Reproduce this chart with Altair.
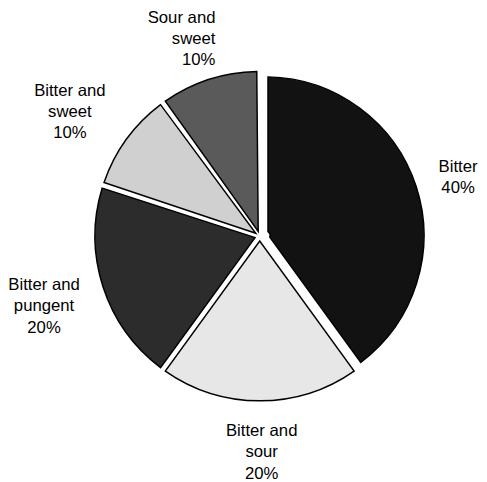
import math
import altair as alt
import pandas as pd

# ---- data ----
tastes = ["Bitter", "Bitter and sour", "Bitter and pungent", "Bitter and sweet", "Sour and sweet"]
shares = [40, 20, 20, 10, 10]
label_lines = ["Bitter", "Bitter and\nsour", "Bitter and\npungent", "Bitter and\nsweet", "Sour and\nsweet"]
colors = ["#121212", "#e7e7e7", "#2c2c2c", "#d0d0d0", "#5a5a5a"]

df = pd.DataFrame({
    "taste": tastes,
    "share": shares,
    "label": label_lines,
    "order": list(range(len(tastes))),
})

W, H = 438, 456
CX, CY = W / 2, H / 2
R = 167.5
LH = 21.5

theta_scale = alt.Scale(domain=[0, 100], range=[0, 2 * math.pi])
color_scale = alt.Scale(domain=tastes, range=colors)

base = alt.Chart(df).transform_window(
    cum="sum(share)", sort=[alt.SortField("order")], frame=[None, 0]
).transform_calculate(
    start="datum.cum - datum.share",
    mid="datum.cum - datum.share / 2",
    text="datum.label + '\\n' + datum.share + '%'",
)


def arc_layer(sel, radius, **pos):
    return base.transform_filter(sel).mark_arc(
        outerRadius=radius, innerRadius=5, padAngle=0.036,
        stroke="black", strokeWidth=1.5,
    ).encode(
        theta=alt.Theta("start:Q", scale=theta_scale, stack=False),
        theta2="cum:Q",
        color=alt.Color("taste:N", scale=color_scale, legend=None),
        **pos,
    )


arcs_other = arc_layer(alt.datum.taste != "Bitter", R)
arc_bitter = arc_layer(alt.datum.taste == "Bitter", 161.5, x=alt.value(CX + 5.5), y=alt.value(CY - 0.5))


def label(name, r, dx=0, dy=0, align="center"):
    return base.transform_filter(alt.datum.taste == name).mark_text(
        radius=r, dx=dx, dy=dy, align=align, baseline="middle",
        font="Liberation Sans", fontSize=17, lineHeight=LH,
        lineBreak="\n", color="black",
    ).encode(
        theta=alt.Theta("mid:Q", scale=theta_scale, stack=False),
        text="text:N",
    )


labels = [
    label("Bitter", 210, dx=2, dy=5.4 - LH / 2),
    label("Bitter and sour", 221, dx=2, dy=-1 - LH),
    label("Bitter and pungent", 238, dx=7, dy=-2 - LH),
    label("Bitter and sweet", 230, dx=-7, dy=9.3 - LH),
    label("Sour and sweet", 212, dx=20.5, dy=1.0 - LH, align="right"),
]

chart = alt.layer(arcs_other, arc_bitter, *labels).properties(
    width=W,
    height=H,
    padding={"left": 37, "top": 0, "right": 4, "bottom": 18},
    autosize=alt.AutoSizeParams(type="none"),
    background="white",
).configure_view(stroke=None)

chart.save("out.html", embed_options={"renderer": "svg", "actions": False})
